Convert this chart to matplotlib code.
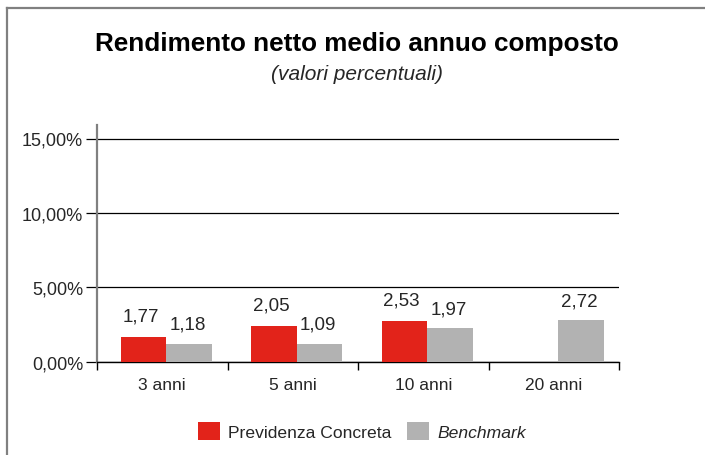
import numpy as np
import matplotlib
matplotlib.use("Agg")
import matplotlib.pyplot as plt
from matplotlib.lines import Line2D
from matplotlib.patches import Patch
from matplotlib.ticker import FuncFormatter

# ---- data ----
categories = ["3 anni", "5 anni", "10 anni", "20 anni"]
series_names = ["Previdenza Concreta", "Benchmark"]
# bar heights as drawn in the picture (percent)
previdenza_bars = [1.66, 2.42, 2.73, np.nan]
benchmark_bars = [1.21, 1.21, 2.26, 2.80]
# data label texts as printed in the picture
previdenza_labels = ["1,77", "2,05", "2,53", ""]
benchmark_labels = ["1,18", "1,09", "1,97", "2,72"]
y_ticks = [0, 5, 10, 15]

RED = "#e2231a"
GRAY = "#b2b2b2"
TXT = "#262626"

plt.rcParams["font.family"] = ["Liberation Sans", "DejaVu Sans"]

W, H = 705, 456
fig = plt.figure(figsize=(W / 100, H / 100), dpi=100)
fig.patch.set_facecolor("white")

# frame (left and top edges visible)
fig.add_artist(Line2D([6.5 / W, 6.5 / W], [0, 1 - 9 / H], transform=fig.transFigure,
                      color="#808080", lw=1.6))
fig.add_artist(Line2D([6.5 / W, 1], [1 - 9 / H, 1 - 9 / H], transform=fig.transFigure,
                      color="#808080", lw=1.6))

left, right = 97 / W, 619.3 / W
bottom = 1 - 362.7 / H
ymax = 15.9
top = 1 - (362.7 - ymax * 14.88) / H
ax = fig.add_axes([left, bottom, right - left, top - bottom])

x = np.arange(len(categories))
bw = 0.35
shift = 0.03
ax.bar(x + shift - bw / 2, previdenza_bars, width=bw, color=RED, zorder=3)
ax.bar(x + shift + bw / 2, benchmark_bars, width=bw, color=GRAY, zorder=3)

for xi, h, lab in zip(x + shift - bw / 2, previdenza_bars, previdenza_labels):
    if lab:
        ax.annotate(lab, (xi, h), xytext=(-2, 15), textcoords="offset points",
                    ha="center", va="center", fontsize=13.5, color=TXT)
for xi, h, lab in zip(x + shift + bw / 2, benchmark_bars, benchmark_labels):
    if lab:
        ax.annotate(lab, (xi, h), xytext=(-1, 14), textcoords="offset points",
                    ha="center", va="center", fontsize=13.5, color=TXT)

ax.set_xlim(-0.5, len(categories) - 0.5)
ax.set_ylim(0, ymax)
ax.set_yticks(y_ticks)
ax.yaxis.set_major_formatter(FuncFormatter(lambda v, p: f"{v:.2f}%".replace(".", ",")))
ax.grid(axis="y", color="black", lw=0.9, zorder=1)
ax.set_xticks(x)
ax.set_xticklabels(categories)
ax.set_xticks(np.arange(len(categories) + 1) - 0.5, minor=True)
ax.tick_params(axis="x", which="major", length=0, pad=11, labelsize=12.5, labelcolor=TXT)
ax.tick_params(axis="x", which="minor", length=6, width=1, color="black", direction="out")
ax.tick_params(axis="y", length=8, width=0.9, color="black", pad=2, labelsize=13, labelcolor=TXT)

for s in ["top", "right"]:
    ax.spines[s].set_visible(False)
ax.spines["left"].set_color("#808080")
ax.spines["left"].set_linewidth(1.6)
ax.spines["bottom"].set_color("black")
ax.spines["bottom"].set_linewidth(1.0)

fig.text(357 / W, 1 - 44 / H, "Rendimento netto medio annuo composto", ha="center",
         va="center", fontsize=18.8, fontweight="bold", color="black")
fig.text(357 / W, 1 - 75 / H, "(valori percentuali)", ha="center", va="center",
         fontsize=15, style="italic", color=TXT)

handles = [Patch(facecolor=RED), Patch(facecolor=GRAY)]
leg = fig.legend(handles, series_names, loc="center", bbox_to_anchor=(362 / W, 1 - 432 / H),
                 ncol=2, frameon=False, fontsize=12.6, handlelength=1.25, handleheight=1.25,
                 handletextpad=0.45, columnspacing=0.9)
for t in leg.get_texts():
    t.set_color(TXT)
leg.get_texts()[1].set_style("italic")

fig.savefig("out.png", dpi=100)
